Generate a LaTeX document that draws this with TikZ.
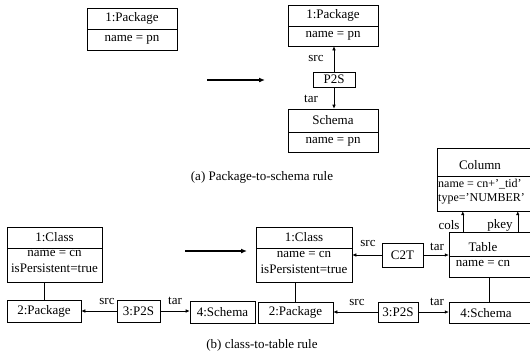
\documentclass[tikz,border=0pt]{standalone}
\usepackage{fontspec}
\setmainfont{Liberation Serif}
\usetikzlibrary{arrows.meta}
\begin{document}
\begin{tikzpicture}[x=1pt,y=-1pt,
  every node/.style={font=\fontsize{13}{15}\selectfont, inner sep=0pt},
  box/.style={draw, rectangle, inner sep=0pt, align=center, line width=0.6pt},
  obox/.style={rectangle, inner sep=0pt},
  conn/.style={line width=0.6pt},
  arr/.style={conn, -{Latex[length=4pt,width=3.5pt]}},
  bigarr/.style={line width=1.4pt, -{Latex[length=6pt,width=5pt]}},
  small/.style={font=\fontsize{12}{13}\selectfont},
  lbl/.style={inner sep=0pt}]
\useasboundingbox (0,0) rectangle (530,360);

% ---------- (a) left ----------
\node[box, minimum width=90pt, minimum height=21pt] (a1h) at (132,18.5) {1:Package};
\node[box, minimum width=90pt, minimum height=21pt] (a1b) at (132,39.5) {name = pn};

\coordinate (ta1) at (207,80);
\coordinate (ta2) at (265,80);
\draw[bigarr] (ta1) -- (ta2);

% ---------- (a) right ----------
\node[box, minimum width=90pt, minimum height=21pt] (b1h) at (333,15.5) {1:Package};
\node[box, minimum width=90pt, minimum height=20pt] (b1b) at (333,36) {name = pn};
\node[box, minimum width=42pt, minimum height=15pt] (p2s) at (334,79.5) {P2S};
\node[box, minimum width=90pt, minimum height=23pt] (schh) at (333,120.5) {Schema};
\node[box, minimum width=90pt, minimum height=20pt] (schb) at (333,142) {name = pn};
\draw[arr] (p2s.north) -- (p2s.north |- b1b.south);
\draw[arr] (p2s.south) -- (p2s.south |- schh.north);
\node[lbl] (srcA) at (316,58) {src};
\node[lbl] (tarA) at (311,99) {tar};

\node (capA) at (262,177) {(a) Package-to-schema rule};

% ---------- (b) left ----------
\node[box, minimum width=95pt, minimum height=21pt] (c1h) at (54.5,237.5) {1:Class};
\node[box, minimum width=95pt, minimum height=34pt] (c1b) at (54.5,265) {};
\node (c1n) at (54.5,253) {name = cn};
\node (c1p) at (54.5,268) {isPersistent=true};
\node[box, minimum width=74pt, minimum height=22pt] (l2) at (44,311) {2:Package};
\node[box, minimum width=43pt, minimum height=22pt] (l3) at (138.5,311) {3:P2S};
\node[box, minimum width=65pt, minimum height=22pt] (l4) at (222.5,312) {4:Schema};
\draw[conn] (l2.north) -- (l2.north |- c1b.south);
\draw[arr] (l3.west) -- (l3.west -| l2.east);
\draw[arr] (l3.east) -- (l3.east -| l4.west);
\node[lbl] (srcL) at (107,301) {src};
\node[lbl] (tarL) at (175,301) {tar};

\coordinate (tb1) at (185,251);
\coordinate (tb2) at (247,251);
\draw[bigarr] (tb1) -- (tb2);

% ---------- (b) right ----------
\node[box, minimum width=96pt, minimum height=21pt] (r1h) at (304,237.5) {1:Class};
\node[box, minimum width=96pt, minimum height=34pt] (r1b) at (304,265) {};
\node (r1n) at (304,254) {name = cn};
\node (r1p) at (304,269) {isPersistent=true};
\node[box, minimum width=41pt, minimum height=24pt] (c2t) at (402.5,255) {C2T};
\draw[arr] (c2t.west) -- (c2t.west -| r1b.east);
\node[lbl] (srcC) at (368,243) {src};

% Column (open on the right)
\node[obox, minimum width=93pt, minimum height=28pt] (colh) at (483.5,162) {};
\node[obox, minimum width=93pt, minimum height=35pt] (colb) at (483.5,193.5) {};
\draw[conn] (colh.north east) -- (colh.north west) -- (colb.south west) -- (colb.south east);
\draw[conn] (colh.south west) -- (colh.south east);
\node (colt) at (480,165) {Column};
\node[small, anchor=west] (cola1) at (438,184) {name = cn+'\_tid'};
\node[small, anchor=west] (cola2) at (438,199) {type='NUMBER'};

% Table (open on the right)
\node[obox, minimum width=81pt, minimum height=24pt] (tabh) at (489.5,244) {};
\node[obox, minimum width=81pt, minimum height=21pt] (tabb) at (489.5,266.5) {};
\draw[conn] (tabh.north east) -- (tabh.north west) -- (tabb.south west) -- (tabb.south east);
\draw[conn] (tabh.south west) -- (tabh.south east);
\node (tabt) at (483,247) {Table};
\node (taba) at (483,263) {name = cn};

\draw[arr] (c2t.east) -- (c2t.east -| tabh.west);
\node[lbl] (tarC) at (437,247) {tar};

\draw[arr] ([xshift=14pt]tabh.north west) -- ([xshift=14pt]tabh.north west |- colb.south);
\draw[arr] ([xshift=69pt]tabh.north west) -- ([xshift=69pt]tabh.north west |- colb.south);
\node[lbl] (colsL) at (449,225) {cols};
\node[lbl] (pkeyL) at (500,225) {pkey};

% lower row
\node[box, minimum width=75pt, minimum height=21pt] (r2) at (295.5,312.5) {2:Package};
\node[box, minimum width=40pt, minimum height=20pt] (r3) at (398,312) {3:P2S};
\node[obox, minimum width=81pt, minimum height=21pt] (r4) at (489.5,312.5) {};
\draw[conn] (r4.north east) -- (r4.north west) -- (r4.south west) -- (r4.south east);
\node (r4t) at (486,313) {4:Schema};
\draw[conn] (r2.north) -- (r2.north |- r1b.south);
\draw[conn] (r4.north) -- (r4.north |- tabb.south);
\draw[arr] (r3.west) -- (r3.west -| r2.east);
\draw[arr] (r3.east) -- (r3.east -| r4.west);
\node[lbl] (srcR) at (357,302) {src};
\node[lbl] (tarR) at (437,302) {tar};

\node (capB) at (262,345) {(b) class-to-table rule};
\end{tikzpicture}
\end{document}
